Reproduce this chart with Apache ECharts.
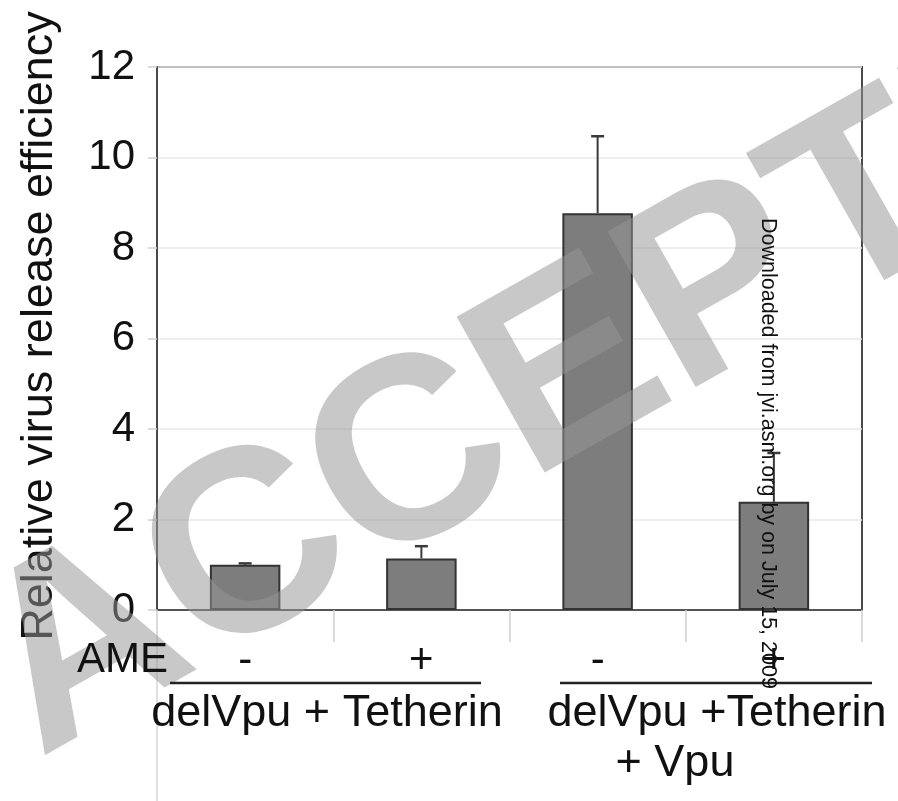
<!DOCTYPE html>
<html><head><meta charset="utf-8">
<script src="https://cdn.jsdelivr.net/npm/echarts@6/dist/echarts.min.js"></script>
<style>html,body{margin:0;padding:0;background:#fff}#c{width:898px;height:801px}</style>
</head><body><div id="c"></div>
<script>
// ---- data ----
const categories = ['-', '+', '-', '+'];
const means = [1.00, 1.14, 8.77, 2.39];
const upperErr = [1.03, 1.41, 10.47, 3.47];
const yMin = 0, yMax = 12, yStep = 2;
const rowLabel = 'AME';
const groupLabels = [['delVpu + Tetherin'], ['delVpu +Tetherin', '+ Vpu']];
const yTitle = 'Relative virus release efficiency';
const watermarkText = 'ACCEPTED';
const sideNote = 'Downloaded from jvi.asm.org by on July 15, 2009';

// ---- layout ----
const FONT = '"Liberation Sans", Arial, sans-serif';
const G = { left: 157, right: 36, top: 67, bottom: 191 };
const chart = echarts.init(document.getElementById('c'), null, { renderer: 'canvas' });

const errData = means.map((m, i) => [i, m, upperErr[i]]);

const groupPos = [
  { line: [170, 481], texts: [[327, 714]] },
  { line: [560, 872], texts: [[717, 714], [675, 764]] }
];

const graphics = [];
// watermark
graphics.push({
  type: 'text', x: 4, y: 696, rotation: 29.5 * Math.PI / 180, z: 50, silent: true,
  style: { text: watermarkText, font: 'bold 260px ' + FONT, fill: 'rgba(150,150,150,0.52)', align: 'left', verticalAlign: 'middle' }
});
// y title
graphics.push({ type: 'text', x: 40, y: 326, rotation: Math.PI / 2, z: 40,
  style: { text: yTitle, font: '45px ' + FONT, fill: '#111', align: 'center', verticalAlign: 'middle' } });
// left guide line below the axis
graphics.push({ type: 'line', z: 1, shape: { x1: G.left, y1: 642, x2: G.left, y2: 801 }, style: { stroke: '#d6d6d6', lineWidth: 1.5 } });
// row label
graphics.push({ type: 'text', x: 168, y: 660, z: 60, style: { text: rowLabel, font: '42px ' + FONT, fill: '#111', align: 'right', verticalAlign: 'middle' } });
groupLabels.forEach((lines, gi) => {
  const p = groupPos[gi];
  graphics.push({ type: 'line', z: 60, shape: { x1: p.line[0], y1: 683, x2: p.line[1], y2: 683 }, style: { stroke: '#222', lineWidth: 2.5 } });
  lines.forEach((t, li) => {
    graphics.push({ type: 'text', x: p.texts[li][0], y: p.texts[li][1], z: 60,
      style: { text: t, font: '45px ' + FONT, fill: '#111', align: 'center', verticalAlign: 'middle' } });
  });
});
// side note
graphics.push({ type: 'text', x: 768, y: 218, rotation: -Math.PI / 2, z: 60,
  style: { text: sideNote, font: '21.5px ' + FONT, fill: '#111', align: 'left', verticalAlign: 'middle' } });

const option = {
  backgroundColor: '#fff',
  animation: false,
  grid: { left: G.left, right: G.right, top: G.top, bottom: G.bottom, show: true, borderColor: '#4a4a4a', borderWidth: 2, backgroundColor: 'transparent' },
  xAxis: {
    type: 'category', data: categories, boundaryGap: true,
    axisLine: { show: true, lineStyle: { color: '#555', width: 2 } },
    axisTick: { show: true, length: 32, interval: 0, lineStyle: { color: '#d0d0d0', width: 1.5 } },
    axisLabel: { fontSize: 42, fontFamily: FONT, color: '#111', margin: 30, interval: 0 },
    splitLine: { show: false }
  },
  yAxis: {
    type: 'value', min: yMin, max: yMax, interval: yStep,
    axisLine: { show: true, lineStyle: { color: '#4a4a4a', width: 2 } },
    axisTick: { show: true, length: 9, lineStyle: { color: '#cfcfcf', width: 1.5 } },
    axisLabel: { fontSize: 42, fontFamily: FONT, color: '#111', margin: 22 },
    splitLine: { show: true, lineStyle: { color: '#e8e8e8', width: 1.5 } }
  },
  series: [
    {
      type: 'bar', data: means, barWidth: '40%', z: 2,
      itemStyle: { color: '#7d7d7d', borderColor: '#333', borderWidth: 2 }
    },
    {
      type: 'custom', data: errData, z: 3,
      encode: { x: 0, y: [1, 2] },
      renderItem: function (params, api) {
        const x = api.value(0);
        const p0 = api.coord([x, api.value(1)]);
        const p1 = api.coord([x, api.value(2)]);
        const hw = 6.5;
        return { type: 'group', children: [
          { type: 'line', shape: { x1: p0[0], y1: p0[1], x2: p1[0], y2: p1[1] }, style: { stroke: '#3a3a3a', lineWidth: 2 } },
          { type: 'line', shape: { x1: p1[0] - hw, y1: p1[1], x2: p1[0] + hw, y2: p1[1] }, style: { stroke: '#3a3a3a', lineWidth: 2.5 } }
        ] };
      }
    }
  ],
  graphic: { elements: graphics }
};
chart.setOption(option);
</script>
</body></html>
